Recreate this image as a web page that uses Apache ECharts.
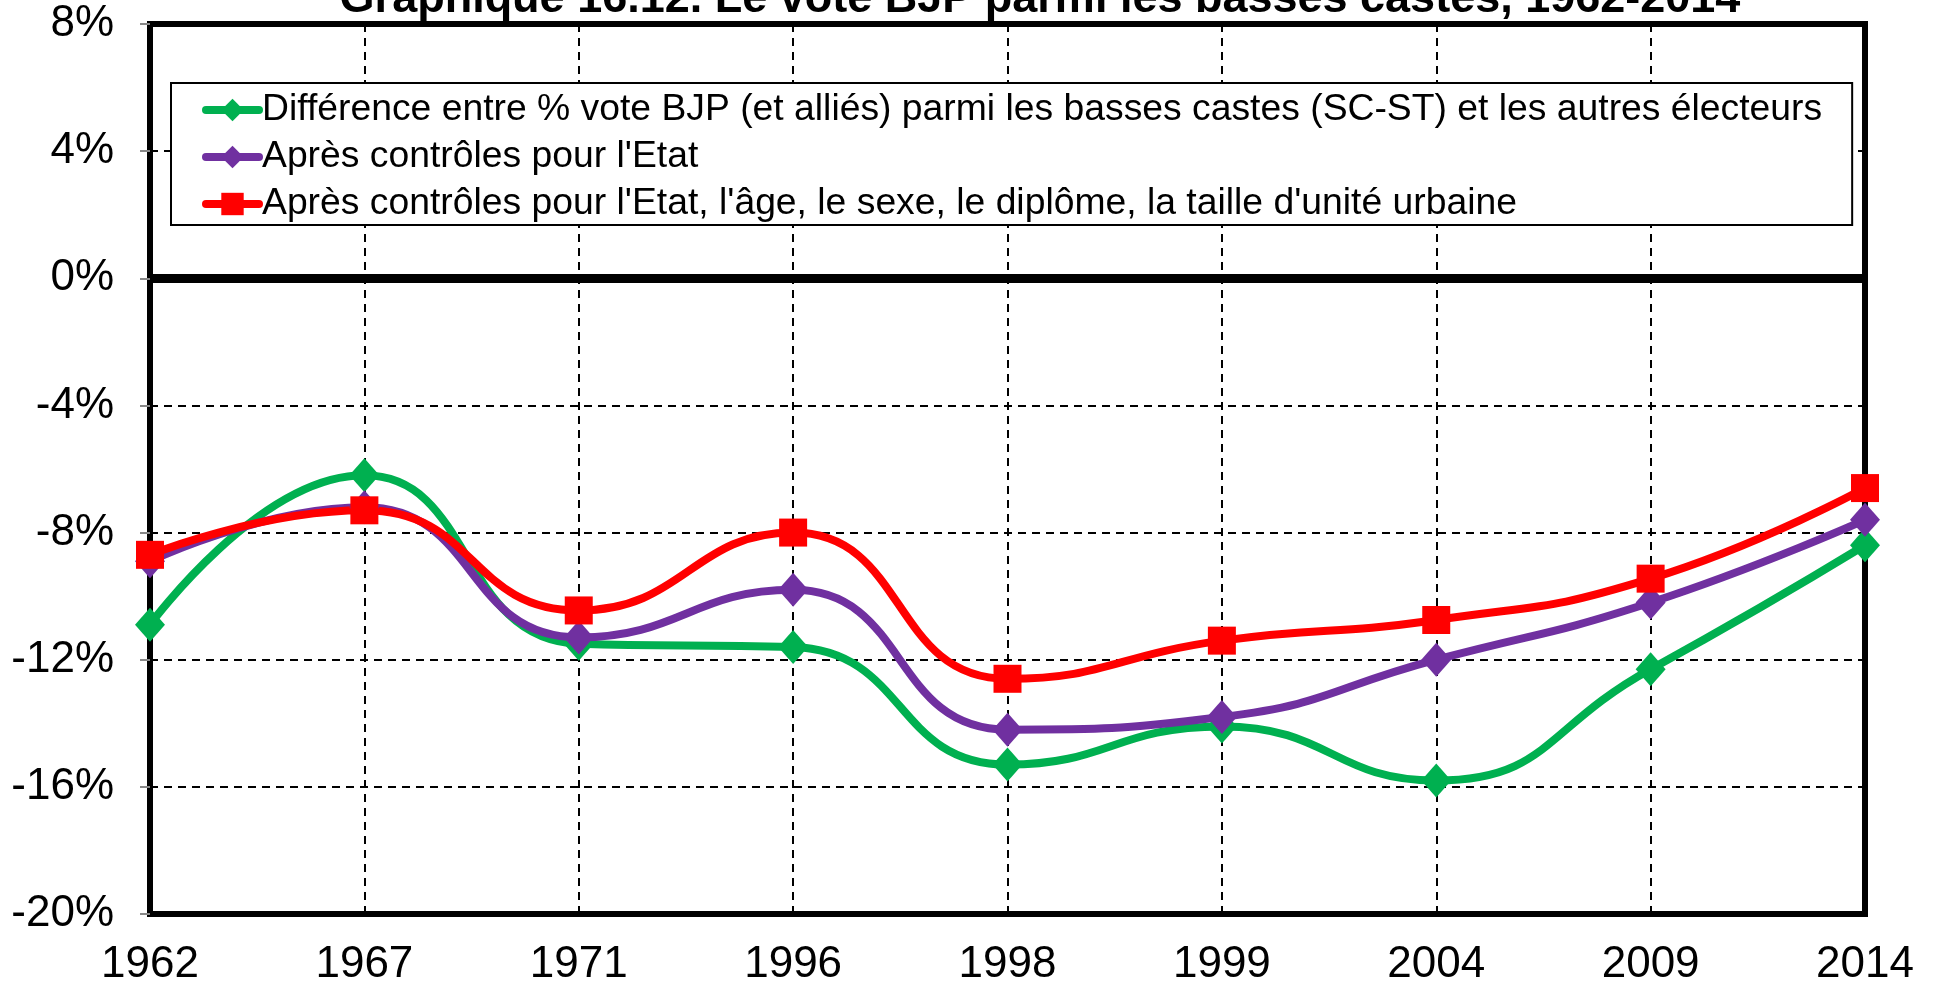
<!DOCTYPE html>
<html>
<head>
<meta charset="utf-8">
<script src="https://cdn.jsdelivr.net/npm/echarts@6/dist/echarts.min.js"></script>
<style>
html,body{margin:0;padding:0;background:#fff;}
#chart{width:1934px;height:987px;}
</style>
</head>
<body>
<div id="chart"></div>
<script>
const titleText = "Graphique 16.12. Le vote BJP parmi les basses castes, 1962-2014";
const categories = ["1962","1967","1971","1996","1998","1999","2004","2009","2014"];
const seriesNames = [
  "Différence entre % vote BJP (et alliés) parmi les basses castes (SC-ST) et les autres électeurs",
  "Après contrôles pour l'Etat",
  "Après contrôles pour l'Etat, l'âge, le sexe, le diplôme, la taille d'unité urbaine"
];
const greenValues  = [-10.9, -6.2, -11.5, -11.6, -15.3, -14.1, -15.8, -12.3, -8.4];
const purpleValues = [-8.9, -7.2, -11.3, -9.8, -14.2, -13.8, -12.0, -10.2, -7.6];
const redValues    = [-8.7, -7.3, -10.45, -8.0, -12.6, -11.4, -10.75, -9.45, -6.6];
const yMin = -20, yMax = 8, yStep = 4;
const zeroLine = 0;
const topLine = 8;

const FONT = "'Liberation Sans', Arial, sans-serif";
const chart = echarts.init(document.getElementById('chart'));

function mk(name, data, color, symbol, size) {
  return {
    name: name, type: 'line', data: data, smooth: 0.5,
    symbol: symbol, symbolSize: size,
    lineStyle: {color: color, width: 8, cap: 'round', join: 'round'},
    itemStyle: {color: color},
    z: 5
  };
}

const series = [
  mk(seriesNames[0], greenValues, '#00B050', 'diamond', [30, 34]),
  mk(seriesNames[1], purpleValues, '#7030A0', 'diamond', [30, 34]),
  mk(seriesNames[2], redValues, '#FF0000', 'rect', [28, 28])
];
series[0].markLine = {
  silent: true, symbol: 'none', label: {show: false},
  data: [
    {yAxis: zeroLine, lineStyle: {color: '#000', width: 9, type: 'solid'}},
    {yAxis: topLine, lineStyle: {color: '#000', width: 6, type: 'solid'}}
  ],
  z: 3
};

chart.setOption({
  backgroundColor: '#fff',
  animation: false,
  title: {
    text: titleText, left: 1035, top: -28, textAlign: 'center',
    textStyle: {fontFamily: FONT, fontSize: 45, fontWeight: 'bold', color: '#000'}
  },
  legend: {
    orient: 'vertical', left: 171, top: 83,
    padding: [8, 30, 2, 31], itemGap: 9,
    itemWidth: 53, itemHeight: 28,
    backgroundColor: '#fff', borderColor: '#000', borderWidth: 2,
    lineStyle: {width: 8, cap: 'round'},
    textStyle: {fontFamily: FONT, fontSize: 37.3, color: '#000', lineHeight: 38, padding: [0,0,0,-2]},
    data: seriesNames
  },
  grid: {left: 150, right: 69, top: 24, bottom: 70, show: true, borderColor: '#000', borderWidth: 6},
  xAxis: {
    type: 'category', data: categories, boundaryGap: false,
    axisLine: {onZero: false, lineStyle: {color: '#000', width: 6}},
    axisTick: {show: false},
    axisLabel: {fontFamily: FONT, fontSize: 44, color: '#000', margin: 29},
    splitLine: {show: true, lineStyle: {color: '#000', width: 2, type: [8, 6]}}
  },
  yAxis: {
    type: 'value', min: yMin, max: yMax, interval: yStep,
    axisLine: {show: true, lineStyle: {color: '#000', width: 6}},
    axisTick: {show: true, length: 10, lineStyle: {color: '#888', width: 2}},
    axisLabel: {fontFamily: FONT, fontSize: 44, color: '#000', margin: 36, formatter: '{value}%'},
    splitLine: {show: true, lineStyle: {color: '#000', width: 2, type: [8, 6]}}
  },
  series: series
});
</script>
</body>
</html>
